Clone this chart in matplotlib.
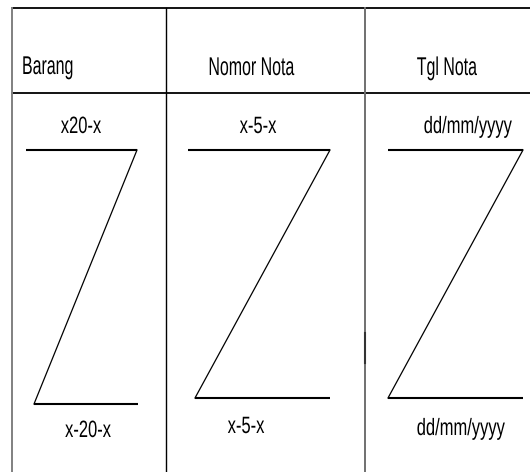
import matplotlib.pyplot as plt
from matplotlib.patheffects import AbstractPathEffect
from matplotlib.transforms import Affine2D

# table layout (pixel units of a 530x472 canvas)
header_labels = ['Barang', 'Nomor Nota', 'Tgl Nota']
header_pos = [(22, 74), (251.5, 75), (447, 75)]
header_align = ['left', 'center', 'center']
col_lines = [11.5, 166, 365]
col_colors = ['#808080', '#000000', '#707070']
top_y = 8
header_y = 93

# Z shapes per column: top line (x0, x1, y), bottom line (x0, x1, y)
z_top = [(26, 137, 150), (188, 330, 150), (388, 523, 150)]
z_bottom = [(34, 138, 404), (195, 330, 398), (388, 523, 398)]
top_texts = ['x20-x', 'x-5-x', 'dd/mm/yyyy']
top_text_pos = [(81, 133), (258, 133), (468, 133)]
bottom_texts = ['x-20-x', 'x-5-x', 'dd/mm/yyyy']
bottom_text_pos = [(88, 437), (246, 433), (461, 435)]


class Squeeze(AbstractPathEffect):
    """Narrow the glyphs horizontally around the text anchor."""

    def __init__(self, text, sx):
        super().__init__()
        self.text = text
        self.sx = sx

    def draw_path(self, renderer, gc, tpath, affine, rgbFace=None):
        cx, cy = self.text.get_transform().transform(self.text.get_position())
        sq = Affine2D().translate(-cx, -cy).scale(self.sx, 1).translate(cx, cy)
        renderer.draw_path(gc, tpath, affine + sq, rgbFace)


def narrow_text(ax, x, y, s, size, sx, ha):
    t = ax.text(x, y, s, ha=ha, va='baseline', fontsize=size, color='black')
    t.set_path_effects([Squeeze(t, sx)])
    return t


plt.rcParams['font.family'] = ['Liberation Sans', 'DejaVu Sans']

fig = plt.figure(figsize=(5.30, 4.72), dpi=100)
ax = fig.add_axes([0, 0, 1, 1])
ax.set_xlim(0, 530)
ax.set_ylim(472, 0)
ax.axis('off')

# table grid
ax.plot([col_lines[0], 530], [top_y, top_y], color='black', lw=1.3)
ax.plot([col_lines[0], 530], [header_y, header_y], color='black', lw=1.3)
for x, c in zip(col_lines, col_colors):
    ax.plot([x, x], [top_y, 472], color=c, lw=1.4 if c != '#000000' else 1.0)
ax.plot([col_lines[2]] * 2, [333, 363], color='#333333', lw=1.5)

for lab, (x, y), ha in zip(header_labels, header_pos, header_align):
    narrow_text(ax, x, y, lab, 18.5, 0.62, ha)

# Z marks
for (tx0, tx1, ty), (bx0, bx1, by) in zip(z_top, z_bottom):
    ax.plot([tx0, tx1], [ty, ty], color='black', lw=1.5, solid_capstyle='butt')
    ax.plot([tx1, bx0], [ty, by], color='black', lw=0.9)
    ax.plot([bx0, bx1], [by, by], color='black', lw=1.5, solid_capstyle='butt')

for t, (x, y) in zip(top_texts, top_text_pos):
    narrow_text(ax, x, y, t, 17, 0.70, 'center')
for t, (x, y) in zip(bottom_texts, bottom_text_pos):
    narrow_text(ax, x, y, t, 17, 0.70, 'center')

fig.savefig('out.png', dpi=100, facecolor='white')
